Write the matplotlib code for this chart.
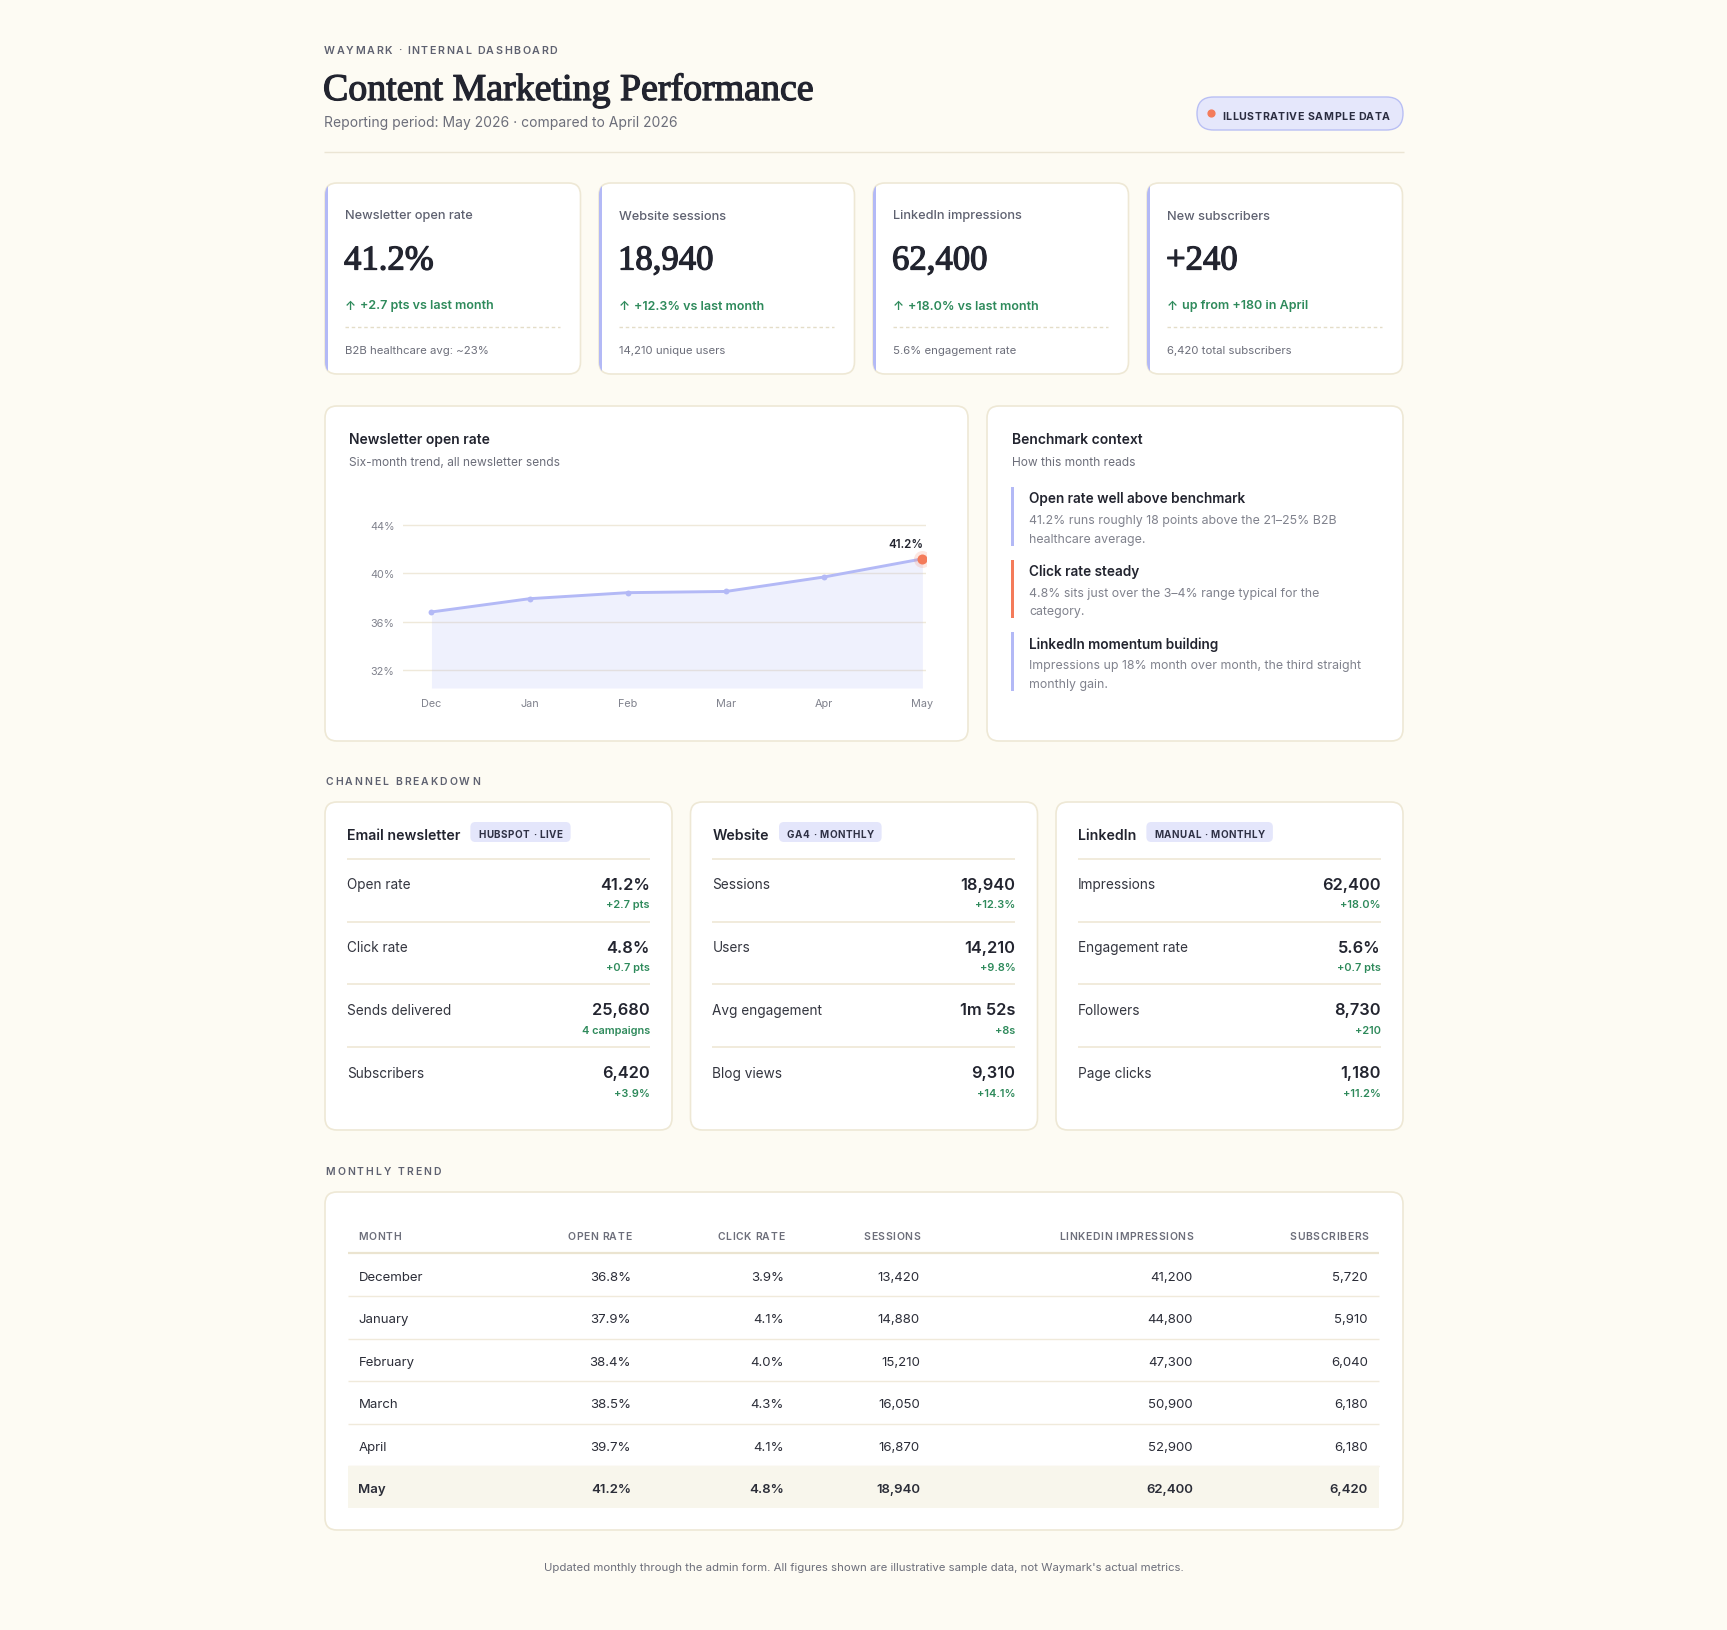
#!/usr/bin/env python3
"""content_dashboard.py - monthly content marketing dashboard"""

import matplotlib
matplotlib.use("Agg")
import matplotlib.pyplot as plt
import matplotlib.patheffects as pe
from matplotlib.font_manager import FontProperties
from matplotlib.patches import FancyBboxPatch, Rectangle, Circle

# ---- data -------------------------------------------------------------
months = ["December", "January", "February", "March", "April", "May"]
month_short = ["Dec", "Jan", "Feb", "Mar", "Apr", "May"]
open_rate = [36.8, 37.9, 38.4, 38.5, 39.7, 41.2]
click_rate = [3.9, 4.1, 4.0, 4.3, 4.1, 4.8]
sessions = [13420, 14880, 15210, 16050, 16870, 18940]
linkedin_impr = [41200, 44800, 47300, 50900, 52900, 62400]
subscribers = [5720, 5910, 6040, 6180, 6180, 6420]

kpi_labels = ["Newsletter open rate", "Website sessions",
              "LinkedIn impressions", "New subscribers"]
kpi_values = ["41.2%", "18,940", "62,400", "+240"]
kpi_deltas = ["+2.7 pts vs last month", "+12.3% vs last month",
              "+18.0% vs last month", "up from +180 in April"]
kpi_notes = ["B2B healthcare avg: ~23%", "14,210 unique users",
             "5.6% engagement rate", "6,420 total subscribers"]

bench_titles = ["Open rate well above benchmark", "Click rate steady",
                "LinkedIn momentum building"]
bench_bodies = ["41.2% runs roughly 18 points above the 21\u201325% B2B\nhealthcare average.",
                "4.8% sits just over the 3\u20134% range typical for the\ncategory.",
                "Impressions up 18% month over month, the third straight\nmonthly gain."]

channels = ["Email newsletter", "Website", "LinkedIn"]
channel_tags = ["HUBSPOT \u00b7 LIVE", "GA4 \u00b7 MONTHLY", "MANUAL \u00b7 MONTHLY"]
channel_labels = [["Open rate", "Click rate", "Sends delivered", "Subscribers"],
                  ["Sessions", "Users", "Avg engagement", "Blog views"],
                  ["Impressions", "Engagement rate", "Followers", "Page clicks"]]
channel_values = [["41.2%", "4.8%", "25,680", "6,420"],
                  ["18,940", "14,210", "1m 52s", "9,310"],
                  ["62,400", "5.6%", "8,730", "1,180"]]
channel_deltas = [["+2.7 pts", "+0.7 pts", "4 campaigns", "+3.9%"],
                  ["+12.3%", "+9.8%", "+8s", "+14.1%"],
                  ["+18.0%", "+0.7 pts", "+210", "+11.2%"]]

table_headers = ["MONTH", "OPEN RATE", "CLICK RATE", "SESSIONS",
                 "LINKEDIN IMPRESSIONS", "SUBSCRIBERS"]

# ---- style ------------------------------------------------------------
W, H = 1727, 1631
BG = "#fdfbf3"
CARD_EDGE = "#eee8d5"
DARK = "#22242f"
GREY = "#6c6e7a"
GREY2 = "#5e6170"
LIGHT = "#80828d"
GREEN = "#2e8a5b"
LAV = "#b3b9f6"
ORANGE = "#f47b5a"
SANS = ["Inter", "DejaVu Sans"]
SERIF = ["Liberation Serif", "DejaVu Serif"]
DY = 2.5  # nudge: matplotlib centres on the full line box, CSS on the glyphs

fig = plt.figure(figsize=(W / 100, H / 100), dpi=100, facecolor=BG)
ax = fig.add_axes([0, 0, 1, 1])
ax.set_xlim(0, W)
ax.set_ylim(H, 0)
ax.axis("off")
renderer = fig.canvas.get_renderer()


def text_w(s, size, weight="normal"):
    fp = FontProperties(family=SANS, size=size, weight=weight)
    return renderer.get_text_width_height_descent(s, fp, ismath=False)[0]


def advance(c, size, weight):
    return text_w("H" + c + "H", size, weight) - text_w("HH", size, weight)


def spaced(x, y, s, size, track, weight="semibold", color=GREY2, ha="left"):
    """Draw letter-spaced text char by char."""
    widths = [advance(c, size, weight) for c in s]
    total = sum(widths) + track * (len(s) - 1)
    if ha == "right":
        x -= total
    elif ha == "center":
        x -= total / 2
    for c, w in zip(s, widths):
        if c != " ":
            ax.text(x, y + DY, c, fontsize=size, weight=weight, color=color,
                    family=SANS, va="center", ha="left", zorder=5)
        x += w + track
    return total


def card(x, y, w, h, r=12):
    p = FancyBboxPatch((x, y), w, h, boxstyle=f"round,pad=0,rounding_size={r}",
                       fc="white", ec=CARD_EDGE, lw=1.2, zorder=1)
    ax.add_patch(p)
    return p


def txt(x, y, s, size, color=DARK, weight="normal", ha="left", **kw):
    return ax.text(x, y + DY, s, fontsize=size, color=color, weight=weight,
                   family=kw.pop("family", SANS), ha=ha, va=kw.pop("va", "center"),
                   zorder=5, **kw)


serif_fx = [pe.withStroke(linewidth=0.9, foreground=DARK)]

# ---- header -----------------------------------------------------------
spaced(324, 48, "WAYMARK \u00b7 INTERNAL DASHBOARD", 7.7, 1.6)
txt(323, 89, "Content Marketing Performance", 27.3, family=SERIF,
    path_effects=serif_fx)
txt(324, 121, "Reporting period: May 2026 \u00b7 compared to April 2026", 10,
    color=GREY)

ax.add_patch(FancyBboxPatch((1197, 98), 206, 33,
                            boxstyle="round,pad=0,rounding_size=16.5",
                            fc="#e5e7fb", ec="#b9bff4", lw=1))
ax.add_patch(Circle((1211.5, 114.5), 3.4, color=ORANGE, zorder=3))
spaced(1222, 114, "ILLUSTRATIVE SAMPLE DATA", 7.6, 0.55, weight="bold",
       color="#2a2c40")
ax.hlines(153, 324, 1404, color="#ebe5d4", lw=1)

# ---- KPI cards ----------------------------------------------------------
kx, kw, kgap, ktop, kh = 325, 255.5, 18.5, 184, 191
for i in range(4):
    cx = kx + i * (kw + kgap)
    p = card(cx, ktop, kw, kh)
    stripe = Rectangle((cx - 1, ktop), 4.5, kh, fc=LAV, ec="none", zorder=2)
    ax.add_patch(stripe)
    stripe.set_clip_path(p)
    txt(cx + 20, 214, kpi_labels[i], 9.2, color=GREY2, weight="medium")
    txt(cx + 19, 259.5, kpi_values[i], 25, family=SERIF, path_effects=serif_fx)
    txt(cx + 20, 304, "\u2191", 9, color=GREEN, weight="semibold")
    txt(cx + 35, 304, kpi_deltas[i], 9, color=GREEN, weight="semibold")
    ax.hlines(328, cx + 20, cx + kw - 20, color="#e4ddc8", lw=1,
              linestyles=(0, (2.5, 2)), zorder=3)
    txt(cx + 20, 348, kpi_notes[i], 8.2, color=GREY)

# ---- chart panel ----------------------------------------------------------
card(325, 407, 643, 335)
txt(349, 438, "Newsletter open rate", 10, weight="semibold")
txt(349, 461, "Six-month trend, all newsletter sends", 8.6, color=GREY)

cax = fig.add_axes([403 / W, 1 - 689 / H, 523 / W, 175 / H])
cax.patch.set_alpha(0)
xs = list(range(len(open_rate)))
cax.set_xlim(-0.29, 5.037)
cax.set_ylim(30.5, 45)
for s in cax.spines.values():
    s.set_visible(False)
cax.set_yticks([32, 36, 40, 44])
cax.set_yticklabels([f"{v}%" for v in [32, 36, 40, 44]])
cax.set_xticks(xs)
cax.set_xticklabels(month_short)
cax.tick_params(length=0, labelsize=7.8, labelcolor=LIGHT, pad=6)
cax.tick_params(axis="x", pad=7)
for lab in cax.get_xticklabels() + cax.get_yticklabels():
    lab.set_family(SANS)
cax.grid(axis="y", color="#efe9da", lw=1)
cax.set_axisbelow(True)
cax.fill_between(xs, open_rate, 30.5, color=LAV, alpha=0.2, lw=0, zorder=2)
cax.plot(xs, open_rate, color=LAV, lw=2.1, zorder=3, solid_capstyle="round")
cax.scatter(xs[:-1], open_rate[:-1], s=18, color=LAV, zorder=4, lw=0)
cax.scatter(xs[-1:], open_rate[-1:], s=150, color=ORANGE, alpha=0.18, zorder=4, lw=0)
cax.scatter(xs[-1:], open_rate[-1:], s=52, color=ORANGE, zorder=5, lw=0)
cax.annotate(f"{open_rate[-1]}%", (xs[-1], open_rate[-1]), xytext=(0.5, 11),
             textcoords="offset points", ha="right", va="center", fontsize=8.3,
             weight="semibold", color=DARK, family=SANS, annotation_clip=False)

# ---- benchmark panel -------------------------------------------------------
card(987, 407, 416, 335)
txt(1012, 438, "Benchmark context", 10, weight="semibold")
txt(1012, 461, "How this month reads", 8.6, color=GREY)
bench_colors = [LAV, ORANGE, LAV]
for i in range(3):
    y0 = 488 + i * 72.5
    ax.add_patch(Rectangle((1011, y0), 3, 58.5, fc=bench_colors[i], ec="none",
                           zorder=3))
    txt(1029, y0 + 9, bench_titles[i], 9.8, weight="semibold")
    txt(1029, y0 + 40, bench_bodies[i], 8.9, color=LIGHT, linespacing=1.72)

# ---- channel breakdown ---------------------------------------------------
spaced(325.5, 780, "CHANNEL BREAKDOWN", 7.5, 2.0)
cw, cgap, ctop, ch = 347, 18.5, 803, 328
for i in range(3):
    cx = 325 + i * (cw + cgap)
    card(cx, ctop, cw, ch)
    txt(cx + 22, 834, channels[i], 10.2, weight="semibold")
    hw = text_w(channels[i], 10.2, "semibold")
    tx = cx + 22 + hw + 10
    tag_w = sum(advance(c, 7.1, "bold") for c in channel_tags[i]) \
        + 0.5 * (len(channel_tags[i]) - 1) + 16
    ax.add_patch(FancyBboxPatch((tx, 823), tag_w, 20,
                                boxstyle="round,pad=0,rounding_size=5",
                                fc="#e4e6fb", ec="none", zorder=3))
    spaced(tx + 8, 832.5, channel_tags[i], 7.1, 0.5, weight="bold",
           color="#2f3145")
    ax.hlines(860, cx + 22, cx + cw - 22, color="#efe8d6", lw=1.2)
    for j in range(4):
        ry = 883 + j * 62.7
        if j > 0:
            ax.hlines(ry - 23, cx + 22, cx + cw - 22, color="#efe8d6", lw=1.2)
        txt(cx + 22, ry, channel_labels[i][j], 9.8, color="#33353f")
        txt(cx + cw - 22, ry, channel_values[i][j], 11.8, weight="semibold",
            ha="right")
        txt(cx + cw - 22, ry + 20, channel_deltas[i][j], 7.9, color=GREEN,
            weight="semibold", ha="right")

# ---- monthly table --------------------------------------------------------
spaced(325.5, 1170, "MONTHLY TREND", 7.5, 2.0)
card(325, 1193, 1078, 338)
col_x = [358.5, 631, 784, 920, 1193, 1368]
for k, head in enumerate(table_headers):
    spaced(col_x[k], 1235, head, 7.5, 0.6, weight="semibold", color=GREY,
           ha="left" if k == 0 else "right")
ax.hlines(1254, 348, 1379, color="#ebe4d0", lw=1.6)
rows = list(zip(months, [f"{v:.1f}%" for v in open_rate],
                [f"{v:.1f}%" for v in click_rate],
                [f"{v:,}" for v in sessions],
                [f"{v:,}" for v in linkedin_impr],
                [f"{v:,}" for v in subscribers]))
for r, row in enumerate(rows):
    ry = 1275.5 + r * 42.5
    last = r == len(rows) - 1
    if last:
        ax.add_patch(Rectangle((348, ry - 21), 1031, 42, fc="#f8f6ec",
                               ec="none", zorder=2))
    else:
        ax.hlines(ry + 21.5, 348, 1379, color="#f0eadb", lw=1)
    for k, val in enumerate(row):
        txt(col_x[k], ry, val, 9.5, color="#2b2d38",
            weight="semibold" if last else "normal",
            ha="left" if k == 0 else "right")

txt(864, 1566, "Updated monthly through the admin form. All figures shown are "
    "illustrative sample data, not Waymark's actual metrics.", 8.2, color=GREY,
    ha="center")

fig.savefig("out.png", dpi=100, facecolor=BG)
